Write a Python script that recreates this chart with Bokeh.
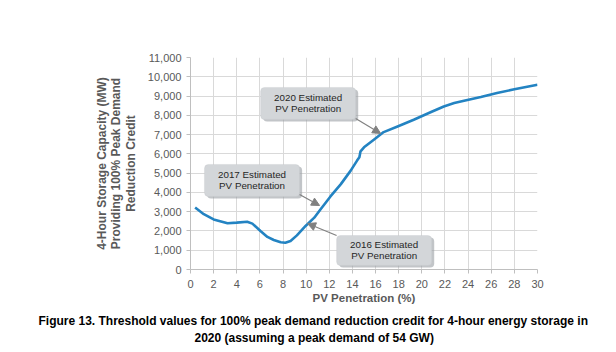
from bokeh.plotting import figure
from bokeh.models import (ColumnDataSource, NumeralTickFormatter, FixedTicker, BoxAnnotation,
                          Label, Arrow, NormalHead, Range1d, Title)
from bokeh.embed import file_html
from bokeh.resources import INLINE

# data
pv_pct = [0.4, 1.15, 2.0, 3.2, 4.0, 4.9, 5.35, 6.05, 6.65, 7.2, 7.8, 8.2, 8.65, 9.2, 9.95,
          10.7, 11.25, 12.1, 13.0, 13.85, 14.4, 14.6, 14.7, 15.0, 15.85, 16.7, 17.9, 19.3,
          20.8, 21.9, 22.8, 23.65, 25.1, 26.5, 28.0, 30.0]
storage_mw = [3220, 2870, 2600, 2400, 2430, 2480, 2380, 2000, 1690, 1530, 1410, 1390, 1480,
              1770, 2260, 2690, 3130, 3790, 4430, 5130, 5650, 5820, 6130, 6340, 6730, 7130,
              7420, 7770, 8170, 8460, 8640, 8760, 8950, 9160, 9350, 9590]
x_ticks = list(range(0, 31, 2))
y_ticks = list(range(0, 11001, 1000))
y_title_lines = ["4-Hour Storage Capacity (MW)", "Providing 100% Peak Demand", "Reduction Credit"]
caption_lines = ["Figure 13. Threshold values for 100% peak demand reduction credit for 4-hour energy storage in",
                 "2020 (assuming a peak demand of 54 GW)"]

callouts = [
    dict(lines=["2020 Estimated", "PV Penetration"], box=(6.06, 14.28, 9445, 7784),
         arrow=(14.28, 7836, 16.44, 7058)),
    dict(lines=["2017 Estimated", "PV Penetration"], box=(1.21, 9.43, 5449, 3788),
         arrow=(9.43, 3892, 11.16, 3321)),
    dict(lines=["2016 Estimated", "PV Penetration"], box=(12.63, 20.85, 1764, 208),
         arrow=(12.63, 1764, 10.12, 2387)),
]

FONT = "Liberation Sans"
GRAY = "#595959"

p = figure(width=616, height=352, output_backend="svg", toolbar_location=None,
           x_range=Range1d(0, 30), y_range=Range1d(0, 11000),
           min_border_left=190, min_border_right=79, min_border_top=57, min_border_bottom=83)
p.outline_line_color = None
p.background_fill_color = "white"

p.xaxis.ticker = FixedTicker(ticks=x_ticks)
p.yaxis.ticker = FixedTicker(ticks=y_ticks)
p.yaxis.formatter = NumeralTickFormatter(format="0,0")
for ax in (p.xaxis, p.yaxis):
    ax.axis_line_color = "#bfbfbf"
    ax.major_tick_line_color = "#bfbfbf"
    ax.major_tick_in = 0
    ax.major_tick_out = 4
    ax.minor_tick_line_color = None
    ax.major_label_text_font = FONT
    ax.major_label_text_font_size = "11px"
    ax.major_label_text_color = GRAY
    ax.axis_label_text_font = FONT
    ax.axis_label_text_font_style = "bold"
    ax.axis_label_text_color = GRAY
p.xaxis.axis_label_text_font_size = "11.5px"
p.yaxis.axis_label_text_font_size = "12px"
p.xaxis.major_label_standoff = 6
p.yaxis.major_label_standoff = 5
p.xaxis.axis_label = "PV Penetration (%)"
p.xaxis.axis_label_standoff = 1
p.yaxis.axis_label = "\n".join(y_title_lines)
p.yaxis.axis_label_standoff = 7
p.yaxis.axis_label_text_line_height = 1.04

p.xgrid.grid_line_color = "#d9d9d9"
p.ygrid.grid_line_color = "#d9d9d9"
p.xgrid.ticker = FixedTicker(ticks=x_ticks)
p.ygrid.ticker = FixedTicker(ticks=y_ticks)

src = ColumnDataSource(data=dict(x=pv_pct, y=storage_mw))
p.line("x", "y", source=src, line_color="#2383c2", line_width=2.6, line_join="round")

for c in callouts:
    l, r, t, b = c["box"]
    p.add_layout(BoxAnnotation(left=l + 0.22, right=r + 0.22, top=t - 110, bottom=b - 110,
                               fill_color="#9a9ea3", fill_alpha=0.6, line_color=None,
                               border_radius=4))
    p.add_layout(BoxAnnotation(left=l, right=r, top=t, bottom=b, fill_color="#d3d6d9",
                               fill_alpha=1.0, line_color="#c4c7ca", line_width=1,
                               border_radius=4))
    cx = (l + r) / 2
    cy = (t + b) / 2
    for i, txt in enumerate(c["lines"]):
        p.add_layout(Label(x=cx, y=cy, text=txt, text_align="center", text_baseline="middle",
                           y_offset=(5.5 if i == 0 else -5.5), text_font=FONT,
                           text_font_size="9.8px", text_color="#262626"))
    x0, y0, x1, y1 = c["arrow"]
    p.add_layout(Arrow(x_start=x0, y_start=y0, x_end=x1, y_end=y1, line_color="#808080",
                       line_width=1.2,
                       end=NormalHead(size=8, fill_color="#808080", line_color="#808080")))

# caption below the chart (left aligned titles shifted by offset from frame left)
for txt, off, so, va in zip(caption_lines, [-152, 4], [10, -4], ["bottom", "top"]):
    p.add_layout(Title(text=txt, align="left", offset=off, standoff=so, vertical_align=va,
                       text_font=FONT, text_font_style="bold", text_font_size="12px",
                       text_color="black"),
                 "below")

open("out.html", "w").write(file_html(p, INLINE))
